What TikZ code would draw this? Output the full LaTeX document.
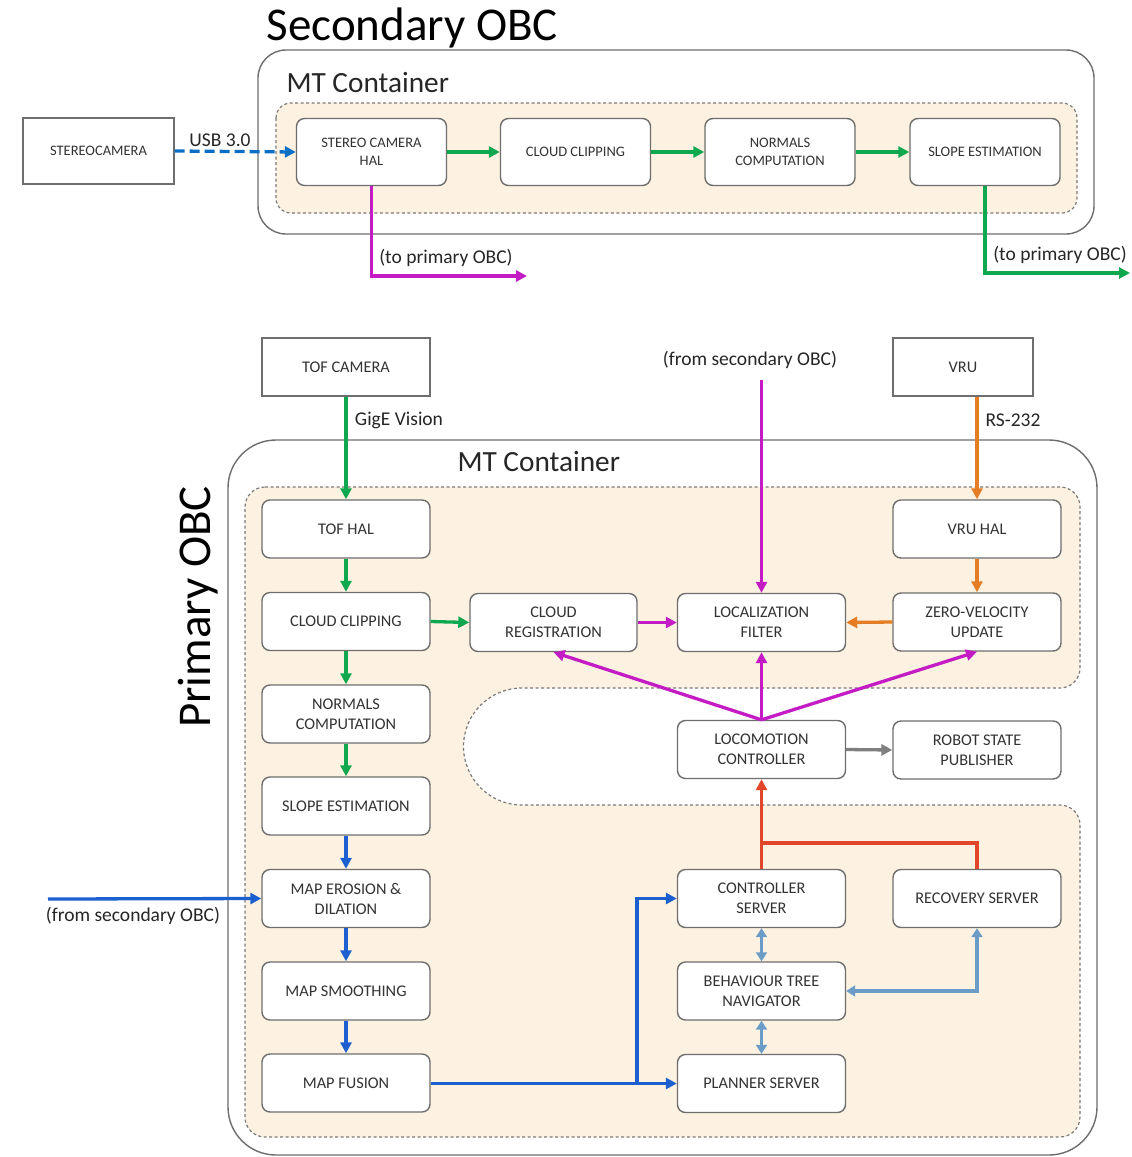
\documentclass[tikz,border=0pt]{standalone}
\usepackage{fontspec}
\setmainfont{Carlito}
\usetikzlibrary{arrows.meta,calc}

\definecolor{cream}{HTML}{FDF2E1}
\definecolor{boxgray}{HTML}{6E6E6E}
\definecolor{dashgray}{HTML}{7A7A7A}
\definecolor{txtgray}{HTML}{333333}
\definecolor{lbl}{HTML}{262626}
\definecolor{lgreen}{HTML}{10A84E}
\definecolor{lmag}{HTML}{C41CC4}
\definecolor{lblue}{HTML}{1C5FCF}
\definecolor{ldash}{HTML}{0A6FC4}
\definecolor{lorange}{HTML}{E57D24}
\definecolor{lred}{HTML}{E2462A}
\definecolor{lsteel}{HTML}{6B9CC7}
\definecolor{lgray}{HTML}{7F7F7F}

\tikzset{
  box/.style={draw=boxgray, line width=1.4pt, fill=white, rounded corners=8pt,
    align=center, text=txtgray, inner sep=2pt},
  tbox/.style={box, minimum width=150pt, minimum height=67pt,
    font=\fontsize{14.5}{18}\selectfont},
  pbox/.style={box, minimum width=168pt, minimum height=58pt,
    font=\fontsize{16.3}{20}\selectfont},
  extbox/.style={draw=boxgray, line width=1.4pt, fill=white, align=center,
    text=txtgray},
  link/.style={line width=3.3pt, -{Triangle[length=11pt,width=11pt]}},
  dlink/.style={line width=3.3pt, {Triangle[length=9pt,width=11pt]}-{Triangle[length=9pt,width=11pt]}},
  lab/.style={text=lbl, font=\fontsize{19.5}{23}\selectfont},
  title/.style={text=black, font=\fontsize{47}{50}\selectfont},
  mttitle/.style={text=lbl, font=\fontsize{29.3}{32}\selectfont},
}

\begin{document}
\begin{tikzpicture}[x=1pt, y=-1pt]
\useasboundingbox (0,0) rectangle (1132,1157);
\fill[white] (0,0) rectangle (1132,1157);

% ---------------- secondary computer ----------------
\node[title, anchor=west] (sectitle) at (263,28) {Secondary OBC};
\draw[boxgray, line width=1.4pt, rounded corners=28pt] (258,50) rectangle (1094,234);
\node[mttitle, anchor=west] (secmt) at (283,83) {MT Container};
\draw[dashgray, fill=cream, line width=1.2pt, dash pattern=on 3pt off 2.5pt, rounded corners=15pt]
  (276,103) rectangle (1077,213);

\node[extbox, minimum width=151pt, minimum height=66pt,
  font=\fontsize{14.5}{18}\selectfont] (stcam) at (98.5,151) {STEREOCAMERA};
\node[tbox] (sthal) at (371.5,152) {STEREO CAMERA\\HAL};
\node[tbox] (sclip) at (575.5,152) {CLOUD CLIPPING};
\node[tbox] (snorm) at (780,152) {NORMALS\\COMPUTATION};
\node[tbox] (sslope) at (985,152) {SLOPE ESTIMATION};

\node[lab] (usb) at (220,140) {USB 3.0};
\draw[link, ldash, dash pattern=on 10pt off 5pt] (stcam.east) -- (sthal.west);
\draw[link, lgreen] (sthal.east) -- (sclip.west);
\draw[link, lgreen] (sclip.east) -- (snorm.west);
\draw[link, lgreen] (snorm.east) -- (sslope.west);

\coordinate (toprimA) at (527,276);
\coordinate (toprimB) at (1130,273);
\draw[link, lmag] (sthal.south) |- (toprimA);
\draw[link, lgreen] (sslope.south) |- (toprimB);
\node[lab] (tpA) at (446,258) {(to primary OBC)};
\node[lab] (tpB) at (1060,255) {(to primary OBC)};

% ---------------- primary computer ----------------
\draw[boxgray, line width=1.4pt, rounded corners=48pt] (228,440) rectangle (1097,1155);
\node[title, rotate=90] (primtitle) at (198,607) {Primary OBC};
\node[mttitle, anchor=west] (primmt) at (454,462) {MT Container};

% container region with the notch around the locomotion controller
\path[fill=cream, draw=dashgray, line width=1.2pt, dash pattern=on 3pt off 2.5pt]
  (265,487) -- (1060,487) arc[start angle=270, end angle=360, radius=20]
  -- (1080,668) arc[start angle=0, end angle=90, radius=20]
  -- (522,688) arc[start angle=270, end angle=90, radius=58.5]
  -- (1060,805) arc[start angle=270, end angle=360, radius=20]
  -- (1080,1117) arc[start angle=0, end angle=90, radius=20]
  -- (265,1137) arc[start angle=90, end angle=180, radius=20]
  -- (245,507) arc[start angle=180, end angle=270, radius=20] -- cycle;

% external devices
\node[extbox, minimum width=168pt, minimum height=58pt,
  font=\fontsize{16.3}{20}\selectfont] (tofcam) at (346,367) {TOF CAMERA};
\node[extbox, minimum width=140pt, minimum height=58pt,
  font=\fontsize{16.3}{20}\selectfont] (vru) at (963,367) {VRU};

% left column
\node[pbox] (tofhal) at (346,529) {TOF HAL};
\node[pbox] (pclip) at (346,621.5) {CLOUD CLIPPING};
\node[pbox] (pnorm) at (346,714) {NORMALS\\COMPUTATION};
\node[pbox] (pslope) at (346,806) {SLOPE ESTIMATION};
\node[pbox] (erode) at (346,898.5) {MAP EROSION \&\\DILATION};
\node[pbox] (smooth) at (346,991) {MAP SMOOTHING};
\node[pbox] (fusion) at (346,1083) {MAP FUSION};

% middle and right columns
\node[pbox, minimum width=167pt] (creg) at (553.5,622.5) {CLOUD\\REGISTRATION};
\node[pbox] (loc) at (761.5,622.5) {LOCALIZATION\\FILTER};
\node[pbox] (loco) at (761.5,749.5) {LOCOMOTION\\CONTROLLER};
\node[pbox] (ctrl) at (761.5,898.5) {CONTROLLER\\SERVER};
\node[pbox] (btnav) at (761.5,991) {BEHAVIOUR TREE\\NAVIGATOR};
\node[pbox] (plan) at (761.5,1083.5) {PLANNER SERVER};
\node[pbox] (vruhal) at (977,529) {VRU HAL};
\node[pbox] (zvu) at (977,622) {ZERO-VELOCITY\\UPDATE};
\node[pbox] (rsp) at (977,750) {ROBOT STATE\\PUBLISHER};
\node[pbox] (recov) at (977,898.5) {RECOVERY SERVER};

% labels on the primary side
\node[lab] (fsA) at (750,360) {(from secondary OBC)};
\node[lab] (gige) at (399,420) {GigE Vision};
\node[lab] (rs) at (1013,420) {RS-232};
\node[lab] (fsB) at (133,916) {(from secondary OBC)};

% point-cloud chain
\draw[link, lgreen] (tofcam.south) -- (tofhal.north);
\draw[link, lgreen] (tofhal.south) -- (pclip.north);
\draw[link, lgreen] (pclip.south) -- (pnorm.north);
\draw[link, lgreen] (pnorm.south) -- (pslope.north);
\draw[link, lgreen] (pclip.east) -- (creg.west);

% mapping chain
\coordinate (fromsecB) at (48,899);
\coordinate (split) at (637,1083.5);
\draw[link, lblue] (pslope.south) -- (erode.north);
\draw[link, lblue] (erode.south) -- (smooth.north);
\draw[link, lblue] (smooth.south) -- (fusion.north);
\draw[link, lblue] (fromsecB) -- (erode.west);
\draw[link, lblue] (fusion.east |- split) -- (plan.west);
\draw[link, lblue] (split) |- (ctrl.west);

% localization
\coordinate (fromsecA) at (761.5,380);
\draw[link, lmag] (fromsecA) -- (loc.north);
\draw[link, lmag] (creg.east) -- (loc.west);
\draw[link, lmag] (loco.north) -- (loc.south);
\draw[link, lmag] (loco.north) -- (creg.south);
\draw[link, lmag] (loco.north) -- (zvu.south);

% inertial unit
\draw[link, lorange] (vru.south -| vruhal.north) -- (vruhal.north);
\draw[link, lorange] (vruhal.south) -- (zvu.north);
\draw[link, lorange] (zvu.west) -- (loc.east);

% locomotion and navigation
\draw[link, lgray] (loco.east) -- (rsp.west);
\coordinate (merge) at (761.5,843);
\draw[link, lred] (ctrl.north) -- (loco.south);
\draw[lred, line width=3.3pt] (recov.north) |- (merge);
\draw[dlink, lsteel] (ctrl.south) -- (btnav.north);
\draw[dlink, lsteel] (btnav.south) -- (plan.north);
\draw[dlink, lsteel] (btnav.east) -| (recov.south);
\end{tikzpicture}
\end{document}
